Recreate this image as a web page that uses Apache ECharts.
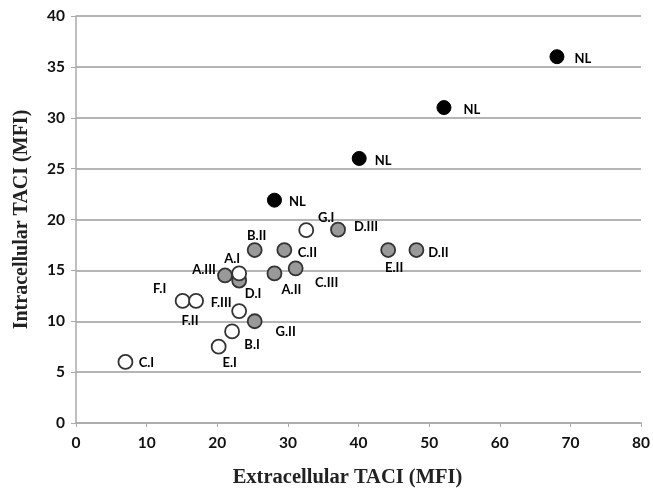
<!DOCTYPE html>
<html><head><meta charset="utf-8">
<script src="https://cdn.jsdelivr.net/npm/echarts@6/dist/echarts.min.js"></script>
<style>html,body{margin:0;padding:0;background:#fff}#c{width:653px;height:493px}</style>
</head><body><div id="c"></div>
<script>
// Normal controls (filled black)
const nlNames = ['NL', 'NL', 'NL', 'NL'];
const nlX = [68.1, 52.1, 40.1, 28.1];
const nlY = [36, 31, 26, 21.9];

// Grey-filled patients
const greyNames = ['D.III', 'B.II', 'C.II', 'E.II', 'D.II', 'A.III', 'D.I', 'A.II', 'C.III', 'G.II'];
const greyX = [37.1, 25.3, 29.5, 44.2, 48.2, 21.1, 23.1, 28.1, 31.1, 25.3];
const greyY = [19, 17, 17, 17, 17, 14.5, 14.0, 14.7, 15.2, 10];

// Open-circle patients
const openNames = ['G.I', 'A.I', 'F.III', 'B.I', 'E.I', 'F.I', 'F.II', 'C.I'];
const openX = [32.6, 23.1, 23.1, 22.1, 20.2, 15.1, 17.0, 7.0];
const openY = [18.95, 14.7, 11, 9, 7.5, 12, 12, 6];

const xTicks = [0, 10, 20, 30, 40, 50, 60, 70, 80];
const yTicks = [0, 5, 10, 15, 20, 25, 30, 35, 40];

// label offsets (px) relative to each marker centre, by series and index
const labelOffsets = {
  nl: [[26, 2], [28, 2], [24, 2], [23, 2]],
  grey: [[28, -3], [2, -14], [23, 3], [6, 18], [22, 3], [-21, -6], [14, 13], [17, 16], [31, 14], [31, 11]],
  open: [[20, -12], [-7, -15], [-18, -8], [20, 13], [11, 16], [-23, -12], [-6, 20], [21, 1]]
};

function build(names, xs, ys, key) {
  return names.map((n, i) => ({
    value: [xs[i], ys[i]],
    name: n,
    label: { offset: labelOffsets[key][i] }
  }));
}

const sans = 'Lato, "Open Sans", "DejaVu Sans", sans-serif';
const serif = '"Liberation Serif", "DejaVu Serif", serif';

const labelStyle = {
  show: true, position: 'inside', formatter: p => p.name,
  fontFamily: sans, fontWeight: 'bold', fontSize: 13, color: '#000'
};

const chart = echarts.init(document.getElementById('c'), null, { renderer: 'canvas' });
chart.setOption({
  backgroundColor: '#fff',
  animation: false,
  grid: { left: 76, right: 10, top: 16, bottom: 66, containLabel: false },
  xAxis: {
    type: 'value', min: 0, max: 80, interval: 10,
    name: 'Extracellular TACI (MFI)', nameLocation: 'middle', nameGap: 44,
    nameTextStyle: { fontFamily: serif, fontWeight: 'bold', fontSize: 20.5, color: '#222', padding: [0, 22, 0, 0] },
    axisLine: { show: true, lineStyle: { color: '#aaa', width: 1.5 } },
    axisTick: { show: true, length: 4, lineStyle: { color: '#aaa' } },
    splitLine: { show: false },
    axisLabel: { margin: 12, fontFamily: sans, fontWeight: 'bold', fontSize: 15.5, color: '#111',
      formatter: v => xTicks.includes(v) ? String(v) : '' }
  },
  yAxis: {
    type: 'value', min: 0, max: 40, interval: 5,
    name: 'Intracellular TACI (MFI)', nameLocation: 'middle', nameGap: 44, nameRotate: 90,
    nameTextStyle: { fontFamily: serif, fontWeight: 'bold', fontSize: 20, color: '#222' },
    axisLine: { show: true, lineStyle: { color: '#aaa', width: 1.5 } },
    axisTick: { show: true, inside: false, length: 5, lineStyle: { color: '#aaa' } },
    splitLine: { show: true, lineStyle: { color: '#b5b5b5', width: 2 } },
    axisLabel: { margin: 11, fontFamily: sans, fontWeight: 'bold', fontSize: 15.5, color: '#111',
      formatter: v => yTicks.includes(v) ? String(v) : '' }
  },
  series: [
    { type: 'scatter', symbol: 'circle', symbolSize: 14, data: build(nlNames, nlX, nlY, 'nl'),
      itemStyle: { color: '#000', borderColor: '#000', borderWidth: 1, opacity: 1 }, label: labelStyle },
    { type: 'scatter', symbol: 'circle', symbolSize: 14, data: build(greyNames, greyX, greyY, 'grey'),
      itemStyle: { color: '#999', borderColor: '#333', borderWidth: 1.8, opacity: 1 }, label: labelStyle },
    { type: 'scatter', symbol: 'circle', symbolSize: 14, data: build(openNames, openX, openY, 'open'),
      itemStyle: { color: '#fff', borderColor: '#333', borderWidth: 1.8, opacity: 1 }, label: labelStyle }
  ]
});
</script></body></html>
